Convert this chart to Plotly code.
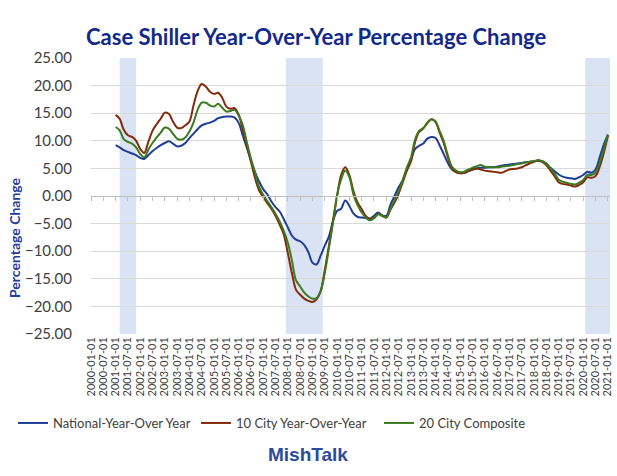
import pandas as pd
import plotly.graph_objects as go

# bi-monthly observations, 2001-01 .. 2021-01
dates = pd.date_range("2001-01-01", "2021-01-01", freq="2MS")

national = [
    9.2, 8.8, 8.3, 8.0, 7.7, 7.4,
    6.9, 6.7, 7.4, 8.1, 8.7, 9.2,
    9.6, 9.9, 9.5, 9.0, 9.1, 9.6,
    10.5, 11.3, 12.1, 12.8, 13.1, 13.3,
    13.6, 14.1, 14.3, 14.4, 14.4, 14.2,
    13.2, 11.0, 8.8, 6.4, 4.3, 2.6,
    1.2, 0.3, -1.0, -2.0, -2.8, -4.2,
    -5.7, -7.2, -7.9, -8.2, -8.9, -10.2,
    -12.1, -12.4, -10.8, -9.0, -7.3, -4.5,
    -2.7, -2.3, -0.8, -1.8, -3.2, -3.8,
    -3.9, -4.0, -4.1, -3.6, -3.0, -3.5,
    -3.6, -1.6, 0.0, 1.6, 2.9, 4.8,
    6.6, 8.5, 9.1, 9.5, 10.4, 10.7,
    10.5, 9.2, 7.6, 6.0, 4.8, 4.4,
    4.2, 4.2, 4.5, 4.8, 5.0, 5.1,
    5.1, 5.2, 5.2, 5.3, 5.5, 5.6,
    5.7, 5.8, 5.9, 6.0, 6.1, 6.2,
    6.3, 6.4, 6.3, 5.9, 5.1, 4.5,
    3.9, 3.5, 3.3, 3.2, 3.1, 3.4,
    3.8, 4.4, 4.2, 4.8, 7.0, 9.3,
    11.1,
]

city10 = [
    14.7, 14.0, 12.0, 11.0, 10.7, 10.0,
    8.5, 7.8, 9.8, 11.8, 13.0, 14.0,
    15.1, 14.9, 13.5, 12.4, 12.3, 12.8,
    13.5, 16.4, 19.0, 20.3, 19.8, 18.9,
    18.5, 18.7, 17.8, 16.2, 15.8, 15.9,
    14.7, 12.0, 9.2, 6.3, 3.2, 1.0,
    -0.2, -1.3, -2.3, -3.6, -5.2, -7.0,
    -10.4, -14.0, -17.0, -17.9, -18.6, -19.0,
    -19.2, -18.7, -17.3, -13.4, -9.0, -4.3,
    0.0, 3.8, 5.2, 3.8, 0.8, -1.2,
    -2.4, -3.6, -4.1, -4.0, -3.2, -3.6,
    -3.9, -2.5, -1.2, 0.4, 2.5, 4.6,
    6.3, 9.7, 11.6, 12.2, 13.2, 13.9,
    13.4, 11.5, 9.6, 7.0, 5.0, 4.3,
    4.1, 4.2, 4.5, 4.8, 5.0, 4.8,
    4.6, 4.5, 4.4, 4.3, 4.2, 4.5,
    4.8, 4.9, 5.0, 5.2, 5.6, 5.9,
    6.2, 6.4, 6.2, 5.6, 4.6, 3.6,
    2.5, 2.2, 2.1, 1.9, 1.7, 2.0,
    2.5, 3.4, 3.3, 3.6, 5.3, 7.8,
    10.9,
]

city20 = [
    12.5, 11.9, 10.3, 9.8, 9.5, 8.8,
    7.6, 7.0, 8.4, 9.6, 10.6, 11.5,
    12.4, 12.2, 11.3, 10.4, 10.2, 10.6,
    11.7, 13.3, 15.6, 16.9, 16.9, 16.4,
    16.2, 16.7, 16.0, 15.3, 15.4, 15.6,
    14.6, 12.9, 9.8, 6.8, 4.2, 1.6,
    0.2, -0.9, -2.0, -3.2, -4.6, -6.3,
    -8.5, -11.7, -15.3, -16.4, -17.5, -18.2,
    -18.6, -18.5, -17.2, -14.0, -9.4, -4.8,
    0.3, 3.0, 4.6, 3.4, 0.2, -1.7,
    -3.0, -3.9, -4.4, -4.0, -3.3, -3.6,
    -3.9, -2.3, -0.8, 0.8, 2.9, 5.2,
    7.0, 10.2, 11.8, 12.3, 13.3, 13.9,
    13.5, 11.8, 10.0, 7.4, 5.3, 4.6,
    4.3, 4.4, 4.8, 5.1, 5.4, 5.6,
    5.3, 5.2, 5.2, 5.2, 5.3, 5.4,
    5.5, 5.6, 5.8, 5.9, 6.1, 6.2,
    6.3, 6.5, 6.3, 5.9, 5.0, 4.1,
    3.0, 2.6, 2.4, 2.2, 2.1, 2.4,
    2.9, 3.8, 3.8, 4.2, 6.0, 8.5,
    11.1,
]

series_names = ["National-Year-Over Year", "10 City Year-Over-Year", "20 City Composite"]
series_colors = ["#1F3C98", "#84290A", "#3B7A1E"]

recessions = [("2001-03-01", "2001-11-01"), ("2007-12-01", "2009-06-01"), ("2020-02-01", "2021-02-01")]

tick_dates = pd.date_range("2000-01-01", "2021-01-01", freq="6MS")
tick_text = [d.strftime("%Y-%m-%d") for d in tick_dates]
x_range = ["2000-01-01", "2021-02-01"]

fig = go.Figure()
for name, vals, col in zip(series_names, [national, city10, city20], series_colors):
    fig.add_trace(go.Scatter(x=dates, y=vals, name=name, mode="lines",
                             line=dict(color=col, width=2), line_shape="spline"))

# helper axis for the zero line with tick marks
fig.add_trace(go.Scatter(x=[], y=[], xaxis="x2", showlegend=False, hoverinfo="skip"))

for a, b in recessions:
    fig.add_shape(type="rect", xref="x", yref="paper", x0=a, x1=b, y0=0, y1=1,
                  fillcolor="#DAE3F3", line=dict(width=0), layer="below")

font_main = "Lato, Open Sans, sans-serif"
W, L, T, B = 519, 91, 58, 142
PH = 476 - T - B


def px_x(x):
    return (x - L) / W


def px_y(y):
    return (476 - B - y) / PH


fig.update_layout(
    width=617, height=476,
    margin=dict(l=L, r=7, t=T, b=B, autoexpand=False),
    paper_bgcolor="white", plot_bgcolor="white",
    font=dict(family=font_main, color="#404040"),
    xaxis=dict(range=x_range, type="date", tickmode="array", tickvals=tick_dates,
               ticktext=tick_text, tickangle=-90, tickfont=dict(size=11, color="#404040"),
               showgrid=False, zeroline=False, showline=False, ticks="", automargin=False),
    xaxis2=dict(range=x_range, type="date", overlaying="x", anchor="free", position=0.5,
                side="bottom", tickmode="array", tickvals=tick_dates, showticklabels=False,
                ticks="outside", ticklen=4, tickcolor="#BFBFBF", showline=True,
                linecolor="#BFBFBF", linewidth=1, showgrid=False, zeroline=False),
    yaxis=dict(range=[-25, 25], dtick=5, tick0=0, tickformat=".2f",
               tickfont=dict(size=15, color="#404040"), gridcolor="#D9D9D9",
               zeroline=False, showline=False, ticks="", ticklabelstandoff=18, automargin=False),
    legend=dict(orientation="h", x=px_x(13), xanchor="left", y=px_y(423), yanchor="middle",
                font=dict(size=13, color="#404040"), itemwidth=30, tracegroupgap=0,
                entrywidth=138, bgcolor="rgba(0,0,0,0)"),
    showlegend=True,
)

fig.add_annotation(text="<b>Case Shiller Year-Over-Year Percentage Change</b>",
                   xref="paper", yref="paper", x=px_x(316), y=px_y(36),
                   showarrow=False, font=dict(size=22, color="#13298A", family=font_main),
                   xanchor="center", yanchor="middle")
fig.add_annotation(text="<b>Percentage Change</b>", textangle=-90,
                   xref="paper", yref="paper", x=px_x(14), y=px_y(238),
                   showarrow=False, font=dict(size=14, color="#1F3C9E", family=font_main),
                   xanchor="center", yanchor="middle")
fig.add_annotation(text="<b>MishTalk</b>",
                   xref="paper", yref="paper", x=px_x(308), y=px_y(454),
                   showarrow=False, font=dict(size=19, color="#2A4BA0", family="Liberation Sans, Arial"),
                   xanchor="center", yanchor="middle")

fig.write_html("out.html", config={"displayModeBar": False},
               post_script="document.body.style.margin='0';")
